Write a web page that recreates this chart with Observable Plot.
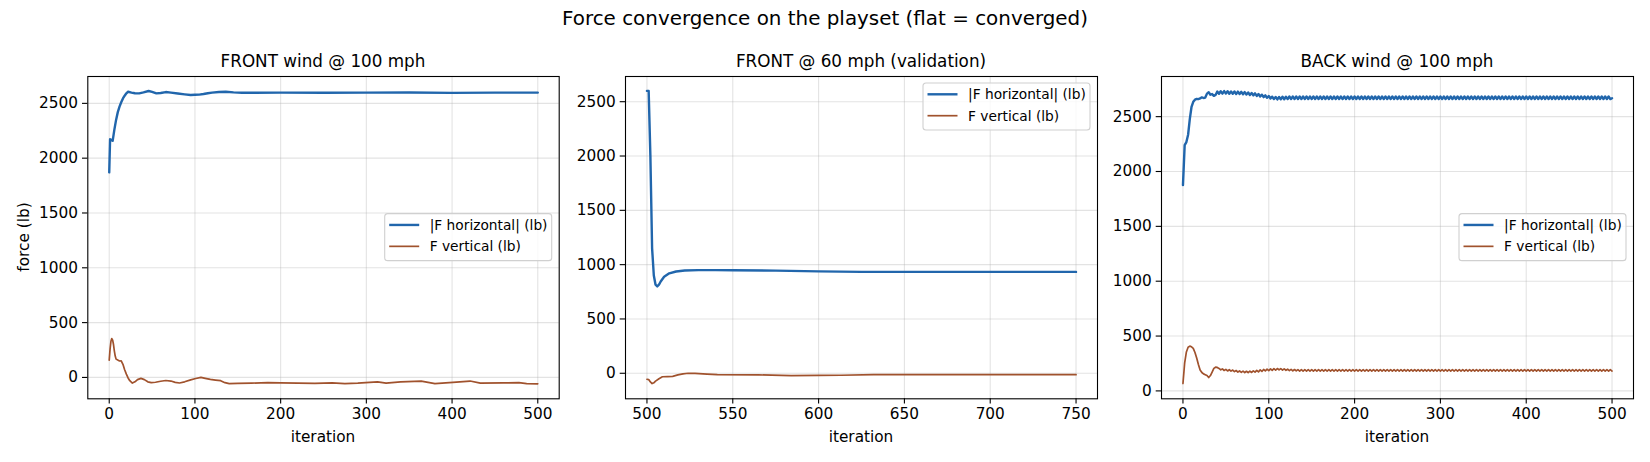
<!DOCTYPE html>
<html>
<head>
<meta charset="utf-8">
<script src="https://cdn.jsdelivr.net/npm/d3@7"></script>
<script src="https://cdn.jsdelivr.net/npm/@observablehq/plot@0.6"></script>
<style>
  html, body { margin: 0; padding: 0; background: #fff; }
  #fig { position: relative; width: 1650px; height: 462px; overflow: hidden; font-family: "DejaVu Sans", sans-serif; }
  .panel { position: absolute; top: 0; }
  #overlay { position: absolute; left: 0; top: 0; pointer-events: none; }
</style>
</head>
<body>
<div id="fig"></div>
<script>
// ---------- data ----------
const suptitle = "Force convergence on the playset (flat = converged)";
const titles = ["FRONT wind @ 100 mph", "FRONT @ 60 mph (validation)", "BACK wind @ 100 mph"];
const seriesNames = ["|F horizontal| (lb)", "F vertical (lb)"];
const xLabel = "iteration";
const yLabel = "force (lb)";
const xTicksFront = [0, 100, 200, 300, 400, 500];
const xTicksValid = [500, 550, 600, 650, 700, 750];
const yTicks = [0, 500, 1000, 1500, 2000, 2500];

// FRONT wind @ 100 mph
const frontHIter = [0,1,2,4,6,8,10,12,14,16,18,20,22,26,30,35,40,46,50,55,60,66,72,80,88,95,100,105,110,115,120,128,136,145,155,170,200,250,300,350,400,450,500];
const frontH = [1870,2173,2168,2158,2260,2349,2420,2470,2510,2545,2570,2592,2606,2598,2592,2591,2600,2613,2605,2591,2595,2603,2598,2590,2582,2576,2578,2580,2585,2592,2598,2604,2606,2600,2597,2597,2598,2597,2598,2599,2596,2598,2598];
const frontVIter = [0,1,2,3,4,5,6,7,8,10,12,14,16,18,20,22,24,27,30,33,37,41,45,49,54,60,66,72,77,82,88,95,101,107,112,118,124,130,135,140,150,166,185,200,220,240,260,275,290,313,323,340,364,380,401,421,433,460,478,487,500];
const frontV = [158,260,330,354,340,300,240,195,167,158,150,152,120,70,30,-5,-30,-51,-40,-20,-9,-20,-40,-47,-44,-35,-28,-33,-45,-51,-40,-22,-10,0,-8,-18,-24,-30,-48,-57,-55,-52,-48,-50,-52,-55,-50,-56,-52,-40,-52,-40,-33,-56,-45,-33,-52,-50,-48,-56,-58];

// FRONT @ 60 mph (validation)
const validHIter = [500,501,502,503,504,505,506,507,508,510,513,517,522,530,540,550,575,600,625,650,700,750];
const validH = [2600,2598,2000,1150,900,815,800,815,845,888,920,937,946,950,950,948,945,938,933,933,933,933];
const validVIter = [500,501,502,503,504,505,507,509,512,515,518,521,524,528,535,541,565,584,600,613,632,700,750];
const validV = [-55,-58,-80,-95,-88,-72,-50,-32,-30,-28,-15,-5,0,-1,-7,-12,-15,-21,-20,-18,-12,-13,-13];

// BACK wind @ 100 mph : one value every 2 iterations, 0..500
const backStep = 2;
const backH = [
1876,2240,2268,2335,2480,2590,2635,2655,2662,2660,2666,2676,2670,2674,2710,2722,2700,2706,2690,2698,
2729,2709,2732,2710,2733,2711,2731,2709,2730,2708,2729,2707,2728,2706,2726,2704,2724,2701,2720,2698,
2716,2694,2712,2689,2706,2684,2700,2678,2694,2672,2688,2666,2682,2660,2679,2657,2679,2658,2681,2659,
2682,2660,
2684,2660,2684,2660,2684,2660,2684,2660,2684,2660,2684,2660,2684,2660,2684,2660,2684,2660,2684,2660,
2684,2660,2684,2660,2684,2660,2684,2660,2684,2660,2684,2660,2684,2660,2684,2660,2684,2660,2684,2660,
2684,2660,2684,2660,2684,2660,2684,2660,2684,2660,2684,2660,2684,2660,2684,2660,2684,2660,2684,2660,
2684,2660,2684,2660,2684,2660,2684,2660,2684,2660,2684,2660,2684,2660,2684,2660,2684,2660,2684,2660,
2684,2660,2684,2660,2684,2660,2684,2660,2684,2660,2684,2660,2684,2660,2684,2660,2684,2660,2684,2660,
2684,2660,2684,2660,2684,2660,2684,2660,2684,2660,2684,2660,2684,2660,2684,2660,2684,2660,2684,2660,
2684,2660,2684,2660,2684,2660,2684,2660,2684,2660,2684,2660,2684,2660,2684,2660,2684,2660,2684,2660,
2684,2660,2684,2660,2684,2660,2684,2660,2684,2660,2684,2660,2684,2660,2684,2660,2684,2660,2684,2660,
2684,2660,2684,2660,2684,2660,2684,2660,2684,2660,2684,2660,2684,2660,2684,2660,2684,2660,2684,2660,
2684,2660,2684,2660,2684,2660,2684,2660,2668
];
const backV = [
67,255,355,398,408,402,388,350,300,240,190,168,155,148,140,122,140,172,205,216,214,
205,192,200,186,196,182,193,180,190,176,186,172,182,169,180,166,179,166,180,168,
183,171,187,174,191,178,195,182,198,185,201,188,203,190,204,191,203,190,201,188,
198,185,196,183,195,182,
194,181,194,181,194,181,194,181,194,181,194,181,194,181,194,181,194,181,194,181,
194,181,194,181,194,181,194,181,194,181,194,181,194,181,194,181,194,181,194,181,
194,181,194,181,194,181,194,181,194,181,194,181,194,181,194,181,194,181,194,181,
194,181,194,181,194,181,194,181,194,181,194,181,194,181,194,181,194,181,194,181,
194,181,194,181,194,181,194,181,194,181,194,181,194,181,194,181,194,181,194,181,
194,181,194,181,194,181,194,181,194,181,194,181,194,181,194,181,194,181,194,181,
194,181,194,181,194,181,194,181,194,181,194,181,194,181,194,181,194,181,194,181,
194,181,194,181,194,181,194,181,194,181,194,181,194,181,194,181,194,181,194,181,
194,181,194,181,194,181,194,181,194,181,194,181,194,181,194,181,194,181,194,181,
194,181,194,181
];

// ---------- styling / layout ----------
const blue = "#2166ac";
const brown = "#a0522d";
const FIG_W = 1650, FIG_H = 462;
const MT = 76, MB = 63.7;

const toRows = (iters, vals) => vals.map((v, k) => ({iter: iters[k], val: v}));
const backIter = backH.map((_, k) => k * backStep);

const panels = [
  {left: 0, width: 570, ml: 87.3, mr: 11.3, xDomain: [-25, 525], yDomain: [-195, 2745], xTicks: xTicksFront,
   h: toRows(frontHIter, frontH), v: toRows(frontVIter, frontV), legend: "centerRight"},
  {left: 570, width: 540, ml: 55, mr: 13, xDomain: [487.5, 762.5], yDomain: [-235, 2732], xTicks: xTicksValid,
   h: toRows(validHIter, validH), v: toRows(validVIter, validV), legend: "upperRight"},
  {left: 1110, width: 540, ml: 51, mr: 17, xDomain: [-25, 525], yDomain: [-72, 2866], xTicks: xTicksFront,
   h: toRows(backIter, backH), v: toRows(backIter.slice(0, backV.length), backV), legend: "centerRight"}
];

const fig = document.getElementById("fig");
const gridStyle = {stroke: "#b0b0b0", strokeOpacity: 0.35, strokeWidth: 1.1};

panels.forEach((p) => {
  const svg = Plot.plot({
    width: p.width,
    height: FIG_H,
    marginLeft: p.ml, marginRight: p.mr, marginTop: MT, marginBottom: MB,
    style: {fontFamily: "DejaVu Sans, sans-serif", fontSize: "15.3px", color: "#000", background: "transparent", overflow: "visible"},
    x: {domain: p.xDomain, label: null},
    y: {domain: p.yDomain, label: null},
    marks: [
      Plot.gridX(p.xTicks, gridStyle),
      Plot.gridY(yTicks, gridStyle),
      Plot.line(p.h, {x: "iter", y: "val", stroke: blue, strokeWidth: 2.4}),
      Plot.line(p.v, {x: "iter", y: "val", stroke: brown, strokeWidth: 1.7}),
      Plot.frame({stroke: "#000", strokeWidth: 1.1}),
      Plot.axisX(p.xTicks, {tickSize: 5.3, tickPadding: 4, strokeWidth: 1.1, label: null, tickFormat: d => `${d}`}),
      Plot.axisY(yTicks, {tickSize: 5.3, tickPadding: 4.5, strokeWidth: 1.1, label: null, tickFormat: d => `${d}`})
    ]
  });
  const wrap = document.createElement("div");
  wrap.className = "panel";
  wrap.style.left = p.left + "px";
  wrap.appendChild(svg);
  fig.appendChild(wrap);
});

// ---------- overlay text (titles, axis labels, legends) ----------
const ov = d3.select("#fig").append("svg")
  .attr("id", "overlay")
  .attr("width", FIG_W).attr("height", FIG_H)
  .style("font-family", "DejaVu Sans, sans-serif");

ov.append("text").attr("x", 825).attr("y", 25).attr("text-anchor", "middle")
  .attr("font-size", 19.9).attr("fill", "#000").text(suptitle);

const frameBottom = FIG_H - MB;
panels.forEach((p, i) => {
  const fl = p.left + p.ml, fr = p.left + p.width - p.mr;
  const cx = (fl + fr) / 2;
  ov.append("text").attr("x", cx).attr("y", 66.5).attr("text-anchor", "middle")
    .attr("font-size", 16.8).attr("fill", "#000").text(titles[i]);
  ov.append("text").attr("x", cx).attr("y", 442).attr("text-anchor", "middle")
    .attr("font-size", 15.3).attr("fill", "#000").text(xLabel);

  // legend
  const bw = 167, bh = 47;
  const bx = fr - 7 - bw;
  const by = p.legend === "upperRight" ? MT + 7 : (MT + frameBottom) / 2 - bh / 2;
  const g = ov.append("g").attr("transform", `translate(${bx},${by})`);
  g.append("rect").attr("x", 0).attr("y", 0).attr("width", bw).attr("height", bh).attr("rx", 3)
    .attr("fill", "#fff").attr("fill-opacity", 0.8).attr("stroke", "#d0d0d0").attr("stroke-width", 1.1);
  [[blue, 2.4], [brown, 1.7]].forEach(([c, w], k) => {
    const yy = 11.3 + k * 21.4;
    g.append("line").attr("x1", 4.5).attr("x2", 34.5).attr("y1", yy).attr("y2", yy)
      .attr("stroke", c).attr("stroke-width", w);
    g.append("text").attr("x", 45).attr("y", yy + 5).attr("font-size", 13.75).attr("fill", "#000")
      .text(seriesNames[k]);
  });
});

ov.append("text").attr("transform", `translate(29,237) rotate(-90)`).attr("text-anchor", "middle")
  .attr("font-size", 15.3).attr("fill", "#000").text(yLabel);
</script>
</body>
</html>
